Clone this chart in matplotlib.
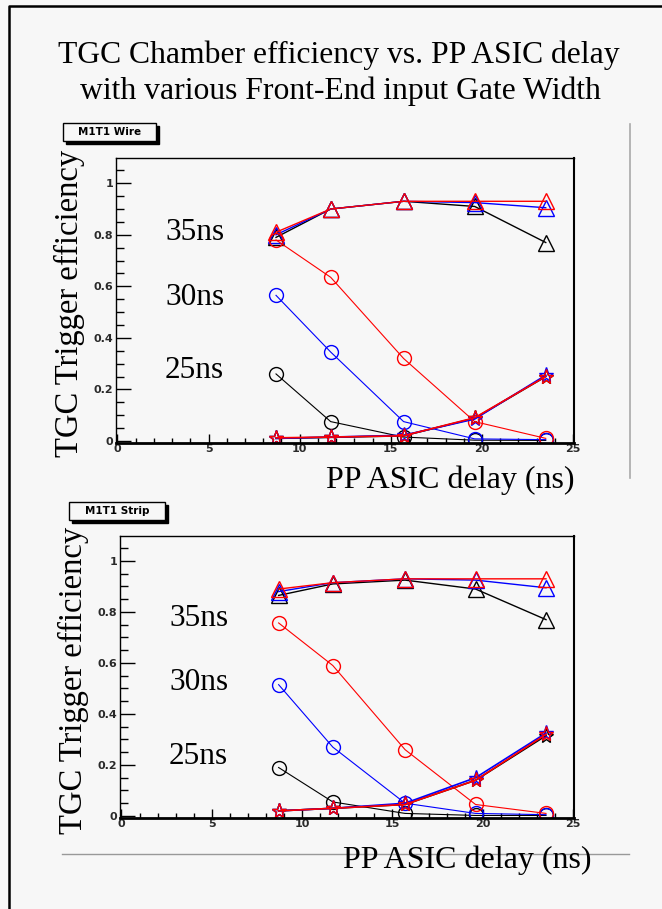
import matplotlib
matplotlib.use('Agg')
import matplotlib.pyplot as plt
from matplotlib.lines import Line2D
from matplotlib.patches import Rectangle
from matplotlib.ticker import MultipleLocator

# x positions (PP ASIC delay, ns)
delay = [8.7, 11.7, 15.7, 19.6, 23.5]

# M1T1 Wire
wire_tri = {
    'black': [0.79, 0.90, 0.93, 0.91, 0.77],
    'blue': [0.80, 0.90, 0.93, 0.925, 0.905],
    'red': [0.81, 0.90, 0.93, 0.93, 0.93],
}
wire_circ = {
    'black': [0.26, 0.075, 0.015, 0.003, 0.002],
    'blue': [0.565, 0.345, 0.075, 0.008, 0.005],
    'red': [0.78, 0.635, 0.32, 0.075, 0.01],
}
wire_star = {
    'black': [0.01, 0.014, 0.02, 0.088, 0.25],
    'blue': [0.01, 0.015, 0.022, 0.085, 0.255],
    'red': [0.012, 0.015, 0.02, 0.09, 0.25],
}

# M1T1 Strip
strip_tri = {
    'black': [0.865, 0.91, 0.925, 0.89, 0.77],
    'blue': [0.88, 0.915, 0.93, 0.925, 0.895],
    'red': [0.89, 0.915, 0.93, 0.93, 0.93],
}
strip_circ = {
    'black': [0.19, 0.055, 0.01, 0.002, 0.002],
    'blue': [0.515, 0.27, 0.05, 0.01, 0.005],
    'red': [0.757, 0.59, 0.26, 0.045, 0.01],
}
strip_star = {
    'black': [0.02, 0.03, 0.045, 0.14, 0.315],
    'blue': [0.02, 0.03, 0.05, 0.15, 0.325],
    'red': [0.02, 0.03, 0.045, 0.14, 0.32],
}

gate_labels = ['35ns', '30ns', '25ns']
xtick_vals = [0, 5, 10, 15, 20, 25]
ytick_vals = [0, 0.2, 0.4, 0.6, 0.8, 1.0]
ytick_text = ['0', '0.2', '0.4', '0.6', '0.8', '1']

W, H = 662, 909
BG = '#f7f7f7'
SERIF = 'Liberation Serif'

fig = plt.figure(figsize=(W / 100, H / 100), dpi=100, facecolor=BG)


def fx(x):
    return x / W


def fy(y):
    return 1 - y / H


def panel(rect, tri, circ, star, name, box, label_y, xlab):
    l, t, r, b = rect
    ax = fig.add_axes([fx(l), fy(b), fx(r) - fx(l), fy(t) - fy(b)])
    ax.set_facecolor(BG)
    for col in ['black', 'blue', 'red']:
        ax.plot(delay, tri[col], color=col, lw=1, marker='^', ms=11,
                mfc='none', mec=col, mew=1)
    for col in ['black', 'blue', 'red']:
        ax.plot(delay, circ[col], color=col, lw=0.8, marker='o', ms=10,
                mfc='none', mec=col, mew=1)
    for col in ['black', 'blue', 'red']:
        ax.plot(delay, star[col], color=col, lw=1.2, marker='*', ms=11,
                mfc='none', mec=col, mew=1)
    ax.set_xlim(-0.08, 25.05)
    ax.set_ylim(-0.008, 1.098)
    ax.xaxis.set_minor_locator(MultipleLocator(1))
    ax.yaxis.set_minor_locator(MultipleLocator(0.05))
    ax.set_xticks(xtick_vals)
    ax.set_xticklabels([str(v) for v in xtick_vals], fontweight='bold')
    ax.set_yticks(ytick_vals)
    ax.set_yticklabels(ytick_text, fontweight='bold')
    ax.tick_params(which='both', direction='in', top=False, right=False,
                   labelsize=8, labelcolor='#2a2a2a', width=1)
    ax.tick_params(axis='y', which='major', length=11, pad=2)
    ax.tick_params(axis='y', which='minor', length=6)
    ax.tick_params(axis='x', which='major', length=6.5, pad=1)
    ax.tick_params(axis='x', which='minor', length=3.6)
    for s in ax.spines.values():
        s.set_linewidth(1)
    ax.spines['bottom'].set_linewidth(2)
    ax.spines['right'].set_linewidth(1.5)

    # histogram title box with shadow
    bx0, by0, bx1, by1 = box
    fig.add_artist(Rectangle((fx(bx0 + 3), fy(by1 + 3)), fx(bx1 - bx0), fy(by0) - fy(by1),
                             transform=fig.transFigure, facecolor='black', edgecolor='black'))
    fig.add_artist(Rectangle((fx(bx0), fy(by1)), fx(bx1 - bx0), fy(by0) - fy(by1),
                             transform=fig.transFigure, facecolor=BG, edgecolor='black', lw=1))
    fig.text(fx((bx0 + bx1) / 2), fy((by0 + by1) / 2), name, ha='center', va='center',
             fontsize=7.5, fontweight='bold', family='DejaVu Sans')

    # y axis title
    fig.text(fx(l - 47), fy((t + b) / 2 + 3), 'TGC Trigger efficiency', rotation=90,
             ha='center', va='center', fontsize=23.5, family=SERIF)
    # gate width annotations
    for txt, yy in zip(gate_labels, label_y):
        fig.text(fx(l + 49), fy(yy), txt, ha='left', va='center', fontsize=22.5, family=SERIF)
    # x axis title
    fig.text(fx(xlab[0]), fy(xlab[1]), 'PP ASIC delay (ns)', ha='center', va='center',
             fontsize=23, family=SERIF)
    return ax


fig.text(fx(339), fy(55), 'TGC Chamber efficiency vs. PP ASIC delay', ha='center',
         va='center', fontsize=22.8, family=SERIF)
fig.text(fx(340), fy(91), 'with various Front-End input Gate Width', ha='center',
         va='center', fontsize=22.8, family=SERIF)

panel((116, 158, 574, 443), wire_tri, wire_circ, wire_star, 'M1T1 Wire',
      (63, 123, 156, 141), [232, 297, 370], (450, 480))
panel((120, 536, 574, 818), strip_tri, strip_circ, strip_star, 'M1T1 Strip',
      (69, 502, 165, 520), [618, 683, 756], (467, 860))

# decorative lines of the pad
fig.add_artist(Line2D([fx(630), fx(630)], [fy(124), fy(478)], transform=fig.transFigure,
                      color='#aaaaaa', lw=1.2))
fig.add_artist(Line2D([fx(62), fx(629)], [fy(854), fy(854)], transform=fig.transFigure,
                      color='#999999', lw=1))
fig.add_artist(Line2D([fx(9), fx(9), fx(662)], [fy(909), fy(6), fy(6)],
                      transform=fig.transFigure, color='black', lw=1.8))

fig.savefig('out.png', dpi=100, facecolor=BG)
